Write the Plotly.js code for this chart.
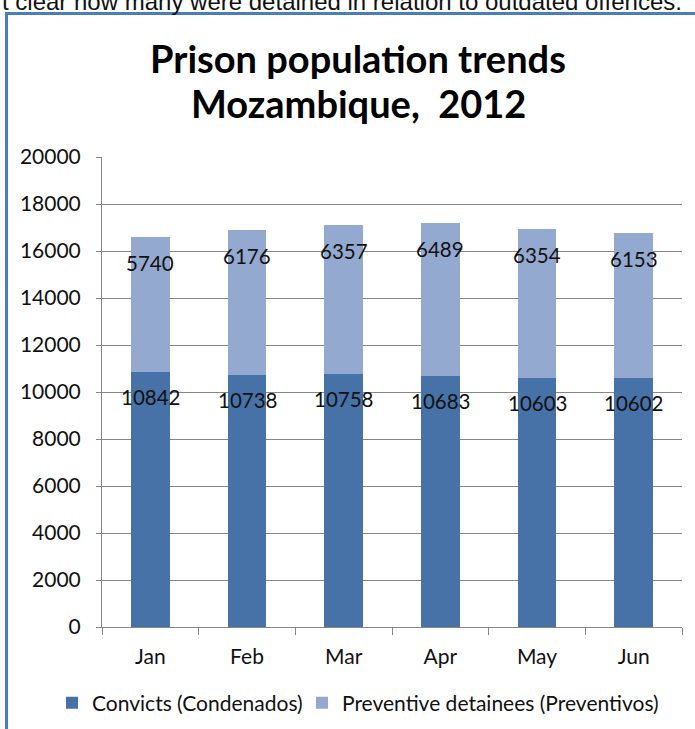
<!DOCTYPE html>
<html>
<head>
<meta charset="utf-8">
<script src="https://cdn.plot.ly/plotly-3.0.1.min.js"></script>
<style>html,body{margin:0;padding:0;background:#fff;}#chart{width:695px;height:729px;}</style>
</head>
<body>
<div id="chart"></div>
<script>
const months = ["Jan", "Feb", "Mar", "Apr", "May", "Jun"];
const convicts = [10842, 10738, 10758, 10683, 10603, 10602];
const preventive = [5740, 6176, 6357, 6489, 6354, 6153];
const seriesNames = ["Convicts (Condenados)", "Preventive detainees (Preventivos)"];
const yTicks = [0, 2000, 4000, 6000, 8000, 10000, 12000, 14000, 16000, 18000, 20000];
const titleLines = ["Prison population trends", "Mozambique,  2012"];
const captionText = "t clear how many were detained in relation to outdated offences.";

const W = 695, H = 729;
const mL = 102, mR = 13, mT = 157, mB = 102;
const pw = W - mL - mR, ph = H - mT - mB;
const px2x = p => (p - mL) / pw;
const py2y = p => (H - mB - p) / ph;

const darkBlue = "#4672A8";
const lightBlue = "#94A9D0";
const baseFont = "Lato, 'Open Sans', sans-serif";
const labelFont = {family: baseFont, size: 20.5, color: "#111"};
const legendFont = {family: baseFont, size: 21, color: "#111"};

const traces = [
  {type: "bar", name: seriesNames[0], x: months, y: convicts, marker: {color: darkBlue}, hoverinfo: "none", legend: "legend"},
  {type: "bar", name: seriesNames[1], x: months, y: preventive, marker: {color: lightBlue}, hoverinfo: "none", legend: "legend2"}
];

const annotations = [];
months.forEach((m, i) => {
  annotations.push({x: m, y: convicts[i], xref: "x", yref: "y", text: String(convicts[i]),
    showarrow: false, yshift: -25, font: labelFont});
  annotations.push({x: m, y: convicts[i] + preventive[i], xref: "x", yref: "y", text: String(preventive[i]),
    showarrow: false, yshift: -26, font: labelFont});
});
annotations.push({xref: "paper", yref: "paper", x: px2x(684), y: py2y(17), xanchor: "right", yanchor: "bottom",
  text: captionText, showarrow: false, font: {family: "Liberation Sans, Arial, sans-serif", size: 24, color: "#111"}});
const titleCenters = [58, 103];
titleLines.forEach((t, i) => {
  annotations.push({xref: "paper", yref: "paper", x: px2x(358), y: py2y(titleCenters[i]), xanchor: "center", yanchor: "middle",
    text: "<b>" + t + "</b>", showarrow: false, font: {family: baseFont, size: 38, color: "#000"}});
});

const layout = {
  width: W, height: H,
  margin: {l: mL, r: mR, t: mT, b: mB},
  paper_bgcolor: "#ffffff", plot_bgcolor: "#ffffff",
  barmode: "stack", bargap: 0.6,
  xaxis: {type: "category", showline: true, linecolor: "#868686", linewidth: 1,
    ticks: "outside", tickson: "boundaries", ticklen: 7, tickcolor: "#868686",
    tickfont: {family: baseFont, size: 21, color: "#111"}, ticklabelstandoff: 11,
    showgrid: false, fixedrange: true},
  yaxis: {range: [0, 20000], tickvals: yTicks, ticktext: yTicks.map(String),
    showline: true, linecolor: "#868686", linewidth: 1,
    ticks: "outside", ticklen: 5, tickcolor: "#868686",
    gridcolor: "#868686", gridwidth: 1, zeroline: false,
    tickfont: {family: baseFont, size: 21, color: "#111"}, ticklabelstandoff: 11,
    fixedrange: true},
  legend: {orientation: "h", x: 52 / W, xref: "container", xanchor: "left",
    y: 1 - 703 / H, yref: "container", yanchor: "middle", itemwidth: 30, font: legendFont},
  legend2: {orientation: "h", x: 302 / W, xref: "container", xanchor: "left",
    y: 1 - 703 / H, yref: "container", yanchor: "middle", itemwidth: 30, font: legendFont},
  shapes: [
    {type: "line", xref: "paper", yref: "paper", x0: px2x(6.5), x1: px2x(6.5), y0: py2y(13.5), y1: py2y(740),
      line: {color: "#4A7EBB", width: 3}},
    {type: "line", xref: "paper", yref: "paper", x0: px2x(5), x1: px2x(705), y0: py2y(13.5), y1: py2y(13.5),
      line: {color: "#4A7EBB", width: 3}}
  ],
  annotations: annotations,
  showlegend: true
};

Plotly.newPlot("chart", traces, layout, {displayModeBar: false, staticPlot: true});
</script>
</body>
</html>
